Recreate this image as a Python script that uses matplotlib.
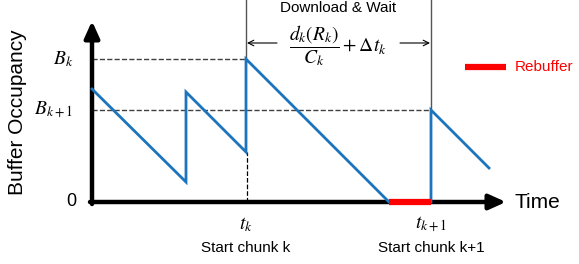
#
# Buffer occupancy over time, with one rebuffer event.
#

import matplotlib
matplotlib.use('Agg')
import matplotlib.pyplot as plt

plt.rcParams['font.family'] = ['Liberation Sans', 'DejaVu Sans']
plt.rcParams['mathtext.fontset'] = 'stix'

# buffer trace (time, buffer level)
time = [0, 9.4, 9.4, 15.4, 15.4, 29.7, 33.9, 33.9, 39.7]
buffer = [11.3, 2.0, 11.0, 5.0, 14.3, 0, 0, 9.2, 3.4]

t_k = 15.4
t_k1 = 33.9
b_k = 14.3
b_k1 = 9.2
rebuf_start = 29.7
rebuf_end = 33.9

blue = '#1c75bc'
fig = plt.figure(figsize=(5.79, 2.64), dpi=100)
ax = fig.add_axes([0, 0, 1, 1])
ax.set_xlim(-9.2, 48.7)
ax.set_ylim(-6.2, 20.2)
ax.axis('off')

# axes with arrows
ax.annotate('', xy=(0, 18.1), xytext=(0, -0.2),
            arrowprops=dict(arrowstyle='-|>,head_width=0.45,head_length=1.0', lw=3.2, color='black', shrinkA=0, shrinkB=0))
ax.annotate('', xy=(41.4, 0), xytext=(-0.2, 0),
            arrowprops=dict(arrowstyle='-|>,head_width=0.45,head_length=1.0', lw=3.2, color='black', shrinkA=0, shrinkB=0))

# guide lines
ax.plot([0, t_k], [b_k, b_k], '--', color='#404040', lw=1)
ax.plot([0, t_k1], [b_k1, b_k1], '--', color='#404040', lw=1)
ax.plot([t_k + 0.15, t_k + 0.15], [0, 5.0], '--', color='black', lw=0.9)
ax.plot([t_k, t_k], [b_k, 21], color='#555555', lw=1)
ax.plot([t_k1, t_k1], [b_k1, 21], color='#555555', lw=1)

# trace
ax.plot(time, buffer, color=blue, lw=2, solid_joinstyle='miter', zorder=3)
ax.plot([rebuf_start, rebuf_end], [0, 0], color='#ff0000', lw=4.5, solid_capstyle='butt', zorder=4)

# download & wait
ax.annotate('', xy=(t_k + 0.1, 15.9), xytext=(18.5, 15.9),
            arrowprops=dict(arrowstyle='->', lw=0.8, color='black', shrinkA=0, shrinkB=0))
ax.annotate('', xy=(t_k1 - 0.1, 15.9), xytext=(30.8, 15.9),
            arrowprops=dict(arrowstyle='->', lw=0.8, color='black', shrinkA=0, shrinkB=0))
ax.text(24.6, 19.4, 'Download & Wait', ha='center', va='center', fontsize=11)
ax.text(24.6, 15.6, r'$\dfrac{d_k(R_k)}{C_k}+\Delta t_k$', ha='center', va='center', fontsize=14)

# labels
ax.text(-1.9, b_k, r'$B_k$', ha='right', va='center', fontsize=14)
ax.text(-1.9, b_k1, r'$B_{k+1}$', ha='right', va='center', fontsize=14)
ax.text(-1.6, 0, '0', ha='right', va='center', fontsize=13)
ax.text(42.3, 0, 'Time', ha='left', va='center', fontsize=15)
ax.text(-7.4, 9.0, 'Buffer Occupancy', rotation=90, ha='center', va='center', fontsize=15)
ax.text(t_k, -2.3, r'$t_k$', ha='center', va='center', fontsize=14)
ax.text(t_k1, -2.3, r'$t_{k+1}$', ha='center', va='center', fontsize=14)
ax.text(t_k, -4.6, 'Start chunk k', ha='center', va='center', fontsize=11)
ax.text(t_k1, -4.6, 'Start chunk k+1', ha='center', va='center', fontsize=11)

# legend
ax.plot([37.3, 41.4], [13.5, 13.5], color='#ff0000', lw=4.5, solid_capstyle='butt')
ax.text(42.3, 13.5, 'Rebuffer', color='#ff0000', ha='left', va='center', fontsize=11)

fig.savefig('out.png', dpi=100)
